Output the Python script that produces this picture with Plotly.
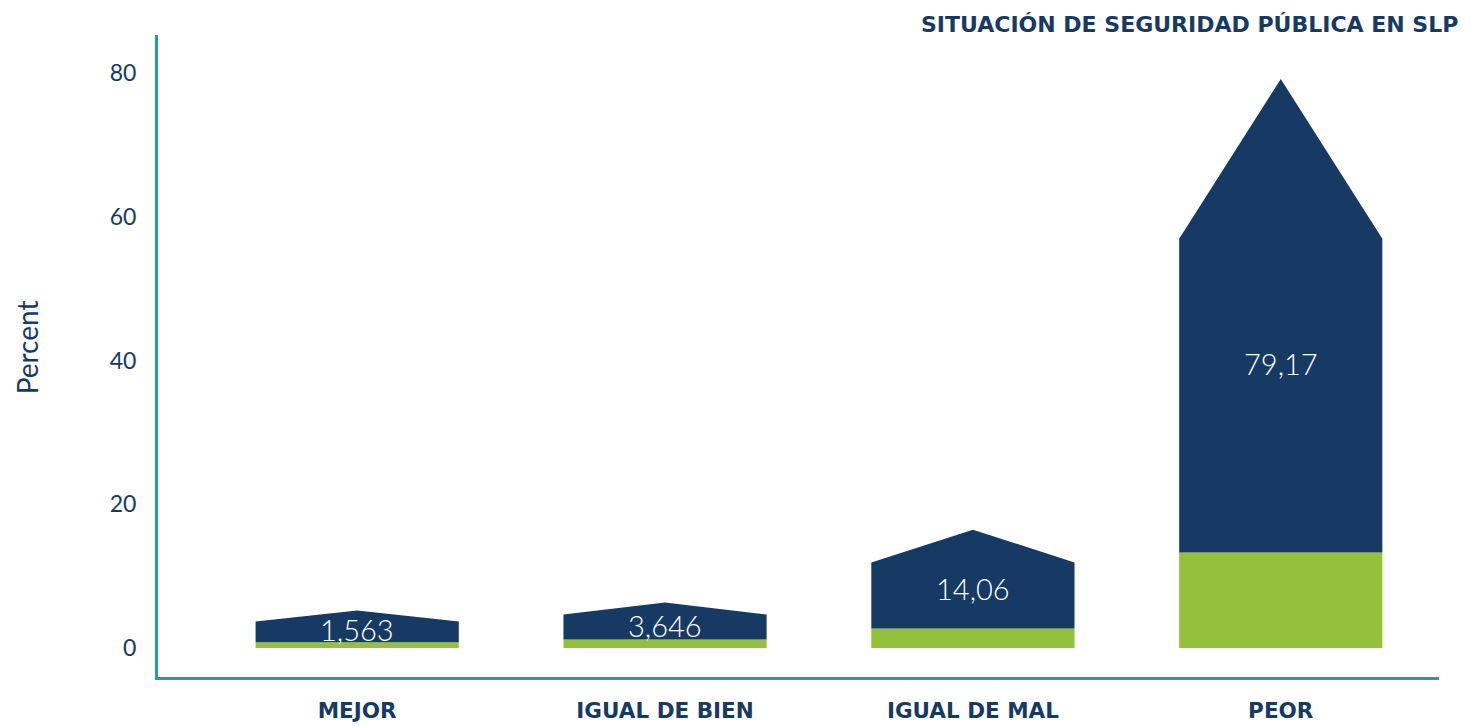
import plotly.graph_objects as go

# ---- data ----
categories = ["MEJOR", "IGUAL DE BIEN", "IGUAL DE MAL", "PEOR"]
values = [1.563, 3.646, 14.06, 79.17]
value_labels = ["1,563", "3,646", "14,06", "79,17"]
# pictogram parts, in axis units (percent)
green_top = [0.81, 1.18, 2.71, 13.28]
body_top = [3.68, 4.66, 11.89, 56.93]
peak_top = [5.21, 6.33, 16.47, 79.17]
y_ticks = [0, 20, 40, 60, 80]

title_text = "SITUACIÓN DE SEGURIDAD PÚBLICA EN SLP"
y_title = "Percent"

NAVY = "#163a64"
GREEN = "#94c13c"
TEAL = "#2a9b95"
HALF = 0.33
FONT = "Lato"
BOLDFONT = "DejaVu Sans"

fig = go.Figure()
xpos = list(range(len(categories)))

for i, xc in enumerate(xpos):
    g = green_top[i]
    b = body_top[i]
    p = peak_top[i]
    # green base
    fig.add_trace(go.Scatter(
        x=[xc - HALF, xc + HALF, xc + HALF, xc - HALF, xc - HALF],
        y=[0, 0, g, g, 0],
        mode="lines", fill="toself", fillcolor=GREEN,
        line=dict(width=0, color=GREEN), hoverinfo="skip", showlegend=False))
    # navy arrow body
    fig.add_trace(go.Scatter(
        x=[xc - HALF, xc + HALF, xc + HALF, xc, xc - HALF, xc - HALF],
        y=[g, g, b, p, b, g],
        mode="lines", fill="toself", fillcolor=NAVY,
        line=dict(width=0, color=NAVY), hoverinfo="skip", showlegend=False))
    fig.add_annotation(
        x=xc, y=p / 2, xref="x", yref="y", text=value_labels[i],
        showarrow=False, xanchor="center", yanchor="middle",
        font=dict(family=FONT, size=29, color="white", weight=300))

fig.add_annotation(
    x=1.0164, y=1.0156, xref="paper", yref="paper", text=title_text,
    showarrow=False, xanchor="right", yanchor="middle",
    font=dict(family=BOLDFONT, size=22, color=NAVY, weight="bold"))

fig.add_annotation(
    x=-0.102, y=0.514, xref="paper", yref="paper", text=y_title,
    textangle=-90, showarrow=False, xanchor="center", yanchor="middle",
    borderpad=0,
    font=dict(family=FONT, size=28, color=NAVY))

fig.update_xaxes(
    range=[-0.647, 3.514], tickmode="array", tickvals=xpos, ticktext=categories,
    showgrid=False, zeroline=False, showline=True, linecolor=TEAL, linewidth=3,
    ticks="", ticklabelstandoff=12, automargin=False,
    tickfont=dict(family=BOLDFONT, size=21.5, color=NAVY, weight="bold"))

fig.update_yaxes(
    range=[-4.03, 85.29], tickmode="array", tickvals=y_ticks,
    showgrid=False, zeroline=False, showline=True, linecolor=TEAL, linewidth=3,
    ticks="", ticklabelstandoff=14, automargin=False,
    tickfont=dict(family=FONT, size=23, color=NAVY))

# the page body has an 8px margin, so the figure is placed at (8, 8)
fig.update_layout(
    width=1473, height=719,
    margin=dict(l=150, r=42, t=27, b=50, autoexpand=False),
    plot_bgcolor="white", paper_bgcolor="white",
    showlegend=False)

fig.write_html("out.html")
